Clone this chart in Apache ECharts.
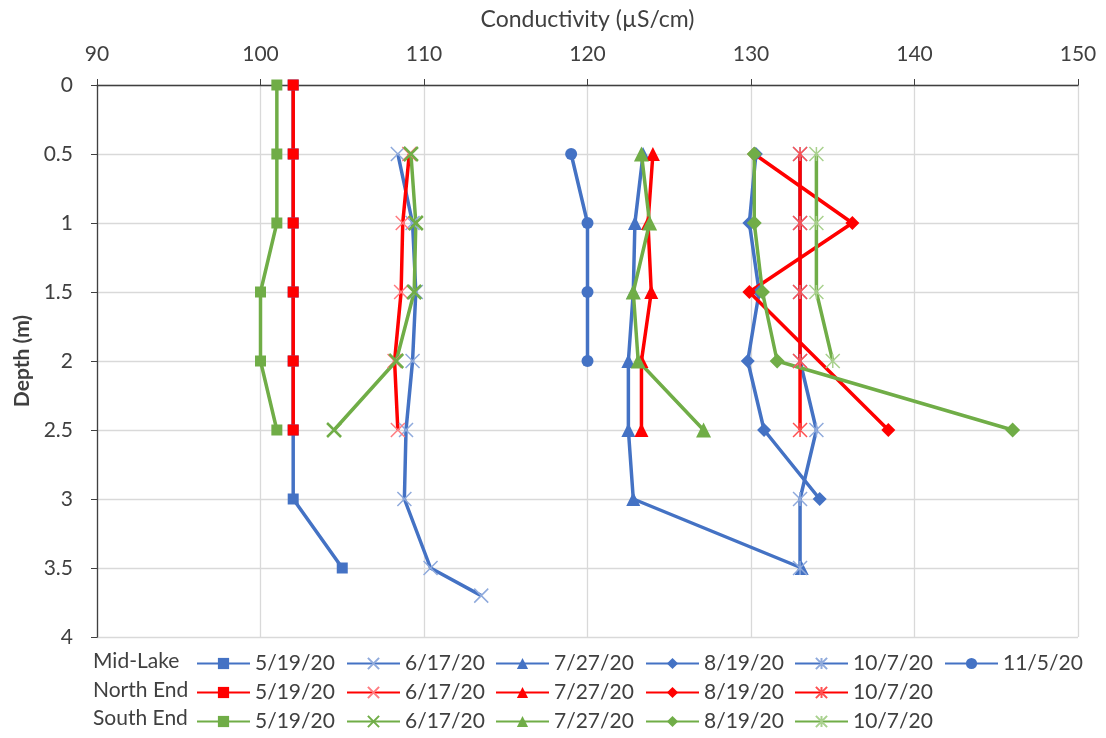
<!DOCTYPE html>
<html>
<head>
<meta charset="utf-8">
<script src="https://cdn.jsdelivr.net/npm/echarts@6/dist/echarts.min.js"></script>
<style>html,body{margin:0;padding:0;background:#fff;}#chart{width:1106px;height:738px;}</style>
</head>
<body>
<div id="chart"></div>
<script>
// ---- Data ----
const xTicks = [90, 100, 110, 120, 130, 140, 150];
const depthTicks = [0, 0.5, 1, 1.5, 2, 2.5, 3, 3.5, 4];

// Mid-Lake
const midDepth_0519 = [0, 0.5, 1, 1.5, 2, 2.5, 3, 3.5];
const mid_0519 = [102, 102, 102, 102, 102, 102, 102, 105];
const midDepth_0617 = [0.5, 1, 1.5, 2, 2.5, 3, 3.5, 3.7];
const mid_0617 = [108.4, 109.3, 109.5, 109.3, 108.9, 108.8, 110.4, 113.5];
const midDepth_0727 = [0.5, 1, 1.5, 2, 2.5, 3, 3.5];
const mid_0727 = [123.4, 122.9, 122.8, 122.5, 122.5, 122.8, 133.1];
const midDepth_0819 = [0.5, 1, 1.5, 2, 2.5, 3];
const mid_0819 = [130.3, 129.9, 130.5, 129.8, 130.8, 134.2];
const midDepth_1007 = [0.5, 1, 1.5, 2, 2.5, 3, 3.5];
const mid_1007 = [133, 133, 133, 133, 134, 133, 133];
const midDepth_1105 = [0.5, 1, 1.5, 2];
const mid_1105 = [119, 120, 120, 120];

// North End
const northDepth_0519 = [0, 0.5, 1, 1.5, 2, 2.5];
const north_0519 = [102, 102, 102, 102, 102, 102];
const northDepth_0617 = [0.5, 1, 1.5, 2, 2.5];
const north_0617 = [109.1, 108.7, 108.6, 108.2, 108.4];
const northDepth_0727 = [0.5, 1, 1.5, 2, 2.5];
const north_0727 = [124, 123.7, 123.9, 123.3, 123.3];
const northDepth_0819 = [0.5, 1, 1.5, 2.5];
const north_0819 = [130.2, 136.2, 129.9, 138.4];
const northDepth_1007 = [0.5, 1, 1.5, 2, 2.5];
const north_1007 = [133, 133, 133, 133, 133];

// South End
const southDepth_0519 = [0, 0.5, 1, 1.5, 2, 2.5];
const south_0519 = [101, 101, 101, 100, 100, 101];
const southDepth_0617 = [0.5, 1, 1.5, 2, 2.5];
const south_0617 = [109.2, 109.5, 109.4, 108.3, 104.5];
const southDepth_0727 = [0.5, 1, 1.5, 2, 2.5];
const south_0727 = [123.3, 123.8, 122.8, 123.1, 127.1];
const southDepth_0819 = [0.5, 1, 1.5, 2, 2.5];
const south_0819 = [130.2, 130.2, 130.7, 131.6, 146];
const southDepth_1007 = [0.5, 1, 1.5, 2];
const south_1007 = [134, 134, 134, 135];

// ---- Styles ----
const BLUE = '#4472C4', RED = '#FF0000', GREEN = '#70AD47';
const X_PATH = 'path://M0,0L10,10M10,0L0,10';
const AST_PATH = 'path://M0,0L10,10M10,0L0,10M5,0L5,10';
const TEXT = '#404040';
const FONT = 'Lato';

function pairs(xs, ds) { return xs.map((v, i) => [v, ds[i]]); }

function mk(name, xs, ds, color, symbol, size, mColor, mStroke) {
  return {
    name: name, type: 'line', data: pairs(xs, ds),
    symbol: symbol, symbolSize: size, showAllSymbol: true,
    lineStyle: { color: color, width: 3.5 },
    itemStyle: { color: mColor || color, borderColor: mColor || color, borderWidth: mStroke || 0 },
    emphasis: { disabled: true }, animation: false
  };
}

const series = [
  mk('Mid-Lake 5/19/20', mid_0519, midDepth_0519, BLUE, 'rect', 11),
  mk('Mid-Lake 6/17/20', mid_0617, midDepth_0617, BLUE, X_PATH, 14, '#8FAADC', 1.5),
  mk('Mid-Lake 7/27/20', mid_0727, midDepth_0727, BLUE, 'triangle', 14),
  mk('Mid-Lake 8/19/20', mid_0819, midDepth_0819, BLUE, 'diamond', 14),
  mk('Mid-Lake 10/7/20', mid_1007, midDepth_1007, BLUE, AST_PATH, 14, '#8FAADC', 1.5),
  mk('Mid-Lake 11/5/20', mid_1105, midDepth_1105, BLUE, 'circle', 12),
  mk('North End 5/19/20', north_0519, northDepth_0519, RED, 'rect', 11),
  mk('North End 6/17/20', north_0617, northDepth_0617, RED, X_PATH, 14, '#FF7C80', 1.5),
  mk('North End 7/27/20', north_0727, northDepth_0727, RED, 'triangle', 14),
  mk('North End 8/19/20', north_0819, northDepth_0819, RED, 'diamond', 14),
  mk('North End 10/7/20', north_1007, northDepth_1007, RED, AST_PATH, 14, '#FF5050', 1.5),
  mk('South End 5/19/20', south_0519, southDepth_0519, GREEN, 'rect', 11),
  mk('South End 6/17/20', south_0617, southDepth_0617, GREEN, X_PATH, 14, GREEN, 2.5),
  mk('South End 7/27/20', south_0727, southDepth_0727, GREEN, 'triangle', 15),
  mk('South End 8/19/20', south_0819, southDepth_0819, GREEN, 'diamond', 15),
  mk('South End 10/7/20', south_1007, southDepth_1007, GREEN, AST_PATH, 14, '#A9D18E', 1.5)
];

const columns = [
  ['Mid-Lake 5/19/20', 'North End 5/19/20', 'South End 5/19/20'],
  ['Mid-Lake 6/17/20', 'North End 6/17/20', 'South End 6/17/20'],
  ['Mid-Lake 7/27/20', 'North End 7/27/20', 'South End 7/27/20'],
  ['Mid-Lake 8/19/20', 'North End 8/19/20', 'South End 8/19/20'],
  ['Mid-Lake 10/7/20', 'North End 10/7/20', 'South End 10/7/20'],
  ['Mid-Lake 11/5/20']
];
const colLeft = [196, 346, 495, 645, 794, 944];
const rowLabels = ['Mid-Lake', 'North End', 'South End'];

const legends = columns.map((names, i) => ({
  data: names, left: colLeft[i], top: 653, orient: 'vertical',
  itemWidth: 53, itemHeight: 14, itemGap: 8, padding: 0,
  selectedMode: false,
  formatter: n => n.split(' ').pop(),
  textStyle: { fontFamily: FONT, fontSize: 21, color: TEXT, lineHeight: 20 }
}));

const chart = echarts.init(document.getElementById('chart'), null, { renderer: 'canvas' });
chart.setOption({
  animation: false,
  backgroundColor: '#fff',
  grid: { left: 97, right: 28, top: 85, bottom: 101, containLabel: false, outerBoundsMode: 'none' },
  xAxis: {
    type: 'value', position: 'top', min: xTicks[0], max: xTicks[xTicks.length - 1], interval: 10,
    name: 'Conductivity (µS/cm)', nameLocation: 'middle', nameGap: 54,
    nameTextStyle: { fontFamily: FONT, fontSize: 23, color: TEXT },
    axisLine: { show: true, lineStyle: { color: '#404040', width: 1.3 } },
    axisTick: { show: true, inside: false, length: 6, lineStyle: { color: '#404040' } },
    axisLabel: { fontFamily: FONT, fontSize: 21, color: TEXT, margin: 20 },
    splitLine: { show: true, lineStyle: { color: '#D9D9D9', width: 1.3 } }
  },
  yAxis: {
    type: 'value', inverse: true, min: depthTicks[0], max: depthTicks[depthTicks.length - 1], interval: 0.5,
    name: 'Depth (m)', nameLocation: 'middle', nameGap: 64,
    nameTextStyle: { fontFamily: FONT, fontSize: 21, color: TEXT, fontWeight: 'bold' },
    axisLine: { show: true, lineStyle: { color: '#404040', width: 1.3 } },
    axisTick: { show: true, inside: false, length: 6, lineStyle: { color: '#404040' } },
    axisLabel: { fontFamily: FONT, fontSize: 21, color: TEXT, margin: 24 },
    splitLine: { show: true, lineStyle: { color: '#D9D9D9', width: 1.3 } }
  },
  legend: legends,
  graphic: rowLabels.map((t, i) => ({
    type: 'text', left: 93, top: 651 + i * 28.5,
    style: { text: t, fontFamily: FONT, fontSize: 21, fill: TEXT }
  })),
  series: series
});
</script>
</body>
</html>
